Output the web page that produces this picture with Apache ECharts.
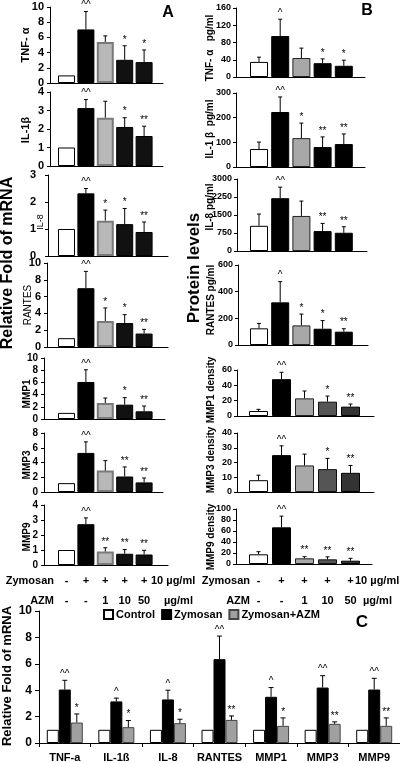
<!DOCTYPE html>
<html><head><meta charset="utf-8">
<script src="https://cdn.jsdelivr.net/npm/echarts@6/dist/echarts.min.js"></script>
<style>html,body{margin:0;padding:0;background:#fff}#c{width:400px;height:763px}</style>
</head><body><div id="c"></div>
<script>
// ---------- DATA ----------
const conditions = ['Control', 'Zymosan', 'Zymosan+AZM 1', 'Zymosan+AZM 10', 'Zymosan+AZM 50'];
const zymosanRow = ['-', '+', '+', '+', '+'];
const azmRow = ['-', '-', '1', '10', '50'];

// Panel A: relative fold of mRNA
const mrnaTNF = [1, 7.05, 5.4, 3.05, 2.75];
const mrnaTNFErr = [0, 2.35, 0.8, 1.85, 1.6];
const mrnaTNFSig = ['', '^^', '', '*', '*'];
const mrnaIL1b = [1, 3.13, 2.61, 2.11, 1.62];
const mrnaIL1bErr = [0, 0.46, 0.89, 0.5, 0.53];
const mrnaIL1bSig = ['', '^^', '', '*', '**'];
const mrnaIL8 = [1, 2.32, 1.31, 1.18, 0.89];
const mrnaIL8Err = [0, 0.18, 0.39, 0.58, 0.37];
const mrnaIL8Sig = ['', '^^', '*', '*', '**'];
const mrnaRANTES = [1.05, 7.0, 3.1, 2.85, 1.6];
const mrnaRANTESErr = [0, 2.0, 1.55, 1.0, 0.5];
const mrnaRANTESSig = ['', '^^', '*', '*', '**'];
const mrnaMMP1 = [1, 6.07, 2.62, 2.35, 1.26];
const mrnaMMP1Err = [0, 2.0, 0.82, 1.15, 0.87];
const mrnaMMP1Sig = ['', '^^', '', '*', '**'];
const mrnaMMP3 = [1.2, 5.3, 2.9, 2.1, 1.3];
const mrnaMMP3Err = [0, 1.5, 1.35, 1.3, 0.6];
const mrnaMMP3Sig = ['', '^^', '', '**', '**'];
const mrnaMMP9 = [1, 2.72, 0.9, 0.75, 0.7];
const mrnaMMP9Err = [0, 0.42, 0.25, 0.28, 0.28];
const mrnaMMP9Sig = ['', '^^', '**', '**', '**'];

// Panel B: protein levels
const protTNF = [35, 95, 44, 32, 26];
const protTNFErr = [11, 39, 23, 10, 13];
const protTNFSig = ['', '^', '', '*', '*'];
const protIL1b = [73, 223, 117, 81, 93];
const protIL1bErr = [28, 61, 61, 41, 41];
const protIL1bSig = ['', '^^', '*', '**', '**'];
const protIL8 = [1050, 2200, 1460, 830, 760];
const protIL8Err = [490, 460, 620, 320, 250];
const protIL8Sig = ['', '^^', '', '**', '**'];
const protRANTES = [125, 320, 147, 122, 100];
const protRANTESErr = [37, 155, 85, 61, 22];
const protRANTESSig = ['', '^', '*', '*', '**'];
const protMMP1 = [6.5, 48, 23, 18.7, 12.2];
const protMMP1Err = [2.2, 9, 9.6, 7.3, 3.4];
const protMMP1Sig = ['', '^^', '', '*', '**'];
const protMMP3 = [8, 25, 18, 15.5, 13];
const protMMP3Err = [3.4, 6.3, 7.7, 7.3, 5];
const protMMP3Sig = ['', '^^', '', '*', '**'];
const protMMP9 = [17.6, 66.7, 10.3, 8.5, 6];
const protMMP9Err = [4.8, 20.3, 3, 4.5, 4.3];
const protMMP9Sig = ['', '^^', '**', '**', '**'];

// Panel C
const cCategories = ['TNF-a', 'IL-1ß', 'IL-8', 'RANTES', 'MMP1', 'MMP3', 'MMP9'];
const cSeriesNames = ['Control', 'Zymosan', 'Zymosan+AZM'];
const cControl = [1, 1, 1, 1, 1, 1, 1];
const cControlErr = [0, 0, 0, 0, 0, 0, 0];
const cControlSig = ['', '', '', '', '', '', ''];
const cZymosan = [4.05, 3.15, 3.3, 6.35, 3.5, 4.2, 4.05];
const cZymosanErr = [0.7, 0.25, 0.7, 1.75, 0.7, 0.9, 0.85];
const cZymosanSig = ['^^', '^', '^', '^^', '^', '^^', '^^'];
const cAZM = [1.55, 1.2, 1.5, 1.75, 1.3, 1.45, 1.3];
const cAZMErr = [0.65, 0.5, 0.3, 0.3, 0.6, 0.15, 0.6];
const cAZMSig = ['*', '*', '*', '**', '*', '**', '**'];

// ---------- LAYOUT / STYLE ----------
const FONT = "'Liberation Sans', Arial, sans-serif";
const NARROW = "'Liberation Sans Narrow', 'Liberation Sans', Arial, sans-serif";

const panelsA = [
  {d: [mrnaTNF, mrnaTNFErr, mrnaTNFSig], max: 10, interval: 2, axisX: 50, top: 7, bottom: 83, end: 163, title: 'TNF- α', tx: 26, ty: 45},
  {d: [mrnaIL1b, mrnaIL1bErr, mrnaIL1bSig], max: 4, interval: 1, axisX: 50, top: 92, bottom: 166, end: 163, title: 'IL-1β', tx: 26, ty: 130},
  {d: [mrnaIL8, mrnaIL8Err, mrnaIL8Sig], max: 3, interval: 1, axisX: 48, top: 175, bottom: 256, end: 168, title: 'IL-8', tx: 41, ty: 222, tfont: 'normal', tsize: 9, lmargin: 12},
  {d: [mrnaRANTES, mrnaRANTESErr, mrnaRANTESSig], max: 10, interval: 2, axisX: 47, top: 263, bottom: 347, end: 168, title: 'RANTES', tx: 28, ty: 305, tfont: 'normal', tsize: 10, narrow: true},
  {d: [mrnaMMP1, mrnaMMP1Err, mrnaMMP1Sig], max: 10, interval: 2, axisX: 44, top: 358, bottom: 419, end: 165, title: 'MMP1', tx: 27, ty: 394, tsize: 10},
  {d: [mrnaMMP3, mrnaMMP3Err, mrnaMMP3Sig], max: 8, interval: 2, axisX: 44, top: 433, bottom: 492, end: 163, title: 'MMP3', tx: 27, ty: 465, tsize: 10},
  {d: [mrnaMMP9, mrnaMMP9Err, mrnaMMP9Sig], max: 4, interval: 1, axisX: 44, top: 505, bottom: 565, end: 168, title: 'MMP9', tx: 27, ty: 537, tsize: 10}
];
const panelsB = [
  {d: [protTNF, protTNFErr, protTNFSig], max: 160, interval: 40, axisX: 236, top: 8, bottom: 77, end: 365, title: 'TNF- α   pg/ml', tx: 210, ty: 48},
  {d: [protIL1b, protIL1bErr, protIL1bSig], max: 300, interval: 100, axisX: 236, top: 93, bottom: 167, end: 365, title: 'IL-1 β  pg/ml', tx: 210, ty: 129},
  {d: [protIL8, protIL8Err, protIL8Sig], max: 3000, interval: 750, axisX: 237, top: 179, bottom: 251, end: 367, title: 'IL-8 pg/ml', tx: 210, ty: 207},
  {d: [protRANTES, protRANTESErr, protRANTESSig], max: 600, interval: 200, axisX: 238, top: 265, bottom: 345, end: 368, title: 'RANTES pg/ml', tx: 211, ty: 300},
  {d: [protMMP1, protMMP1Err, protMMP1Sig], max: 60, interval: 20, axisX: 237, top: 370, bottom: 416, end: 374, title: 'MMP1 density', tx: 211, ty: 390},
  {d: [protMMP3, protMMP3Err, protMMP3Sig], max: 40, interval: 10, axisX: 237, top: 433, bottom: 492, end: 374, title: 'MMP3 density', tx: 211, ty: 460},
  {d: [protMMP9, protMMP9Err, protMMP9Sig], max: 100, interval: 20, axisX: 236, top: 509, bottom: 564, end: 372, title: 'MMP9 density', tx: 211, ty: 537}
];

const grayA = {color: '#b8b8b8', borderColor: '#7a7a7a', borderWidth: 2};
const styleA = [
  {color: '#fff', borderColor: '#000', borderWidth: 1},
  {color: '#000', borderColor: '#000', borderWidth: 1},
  grayA,
  {color: '#111', borderColor: '#000', borderWidth: 1},
  {color: '#111', borderColor: '#000', borderWidth: 1}
];
const styleB1 = [
  {color: '#fff', borderColor: '#000', borderWidth: 1},
  {color: '#000', borderColor: '#000', borderWidth: 1},
  {color: '#a8a8a8', borderColor: '#222', borderWidth: 1},
  {color: '#000', borderColor: '#000', borderWidth: 1},
  {color: '#000', borderColor: '#000', borderWidth: 1}
];
const styleB2 = [
  {color: '#fff', borderColor: '#000', borderWidth: 1},
  {color: '#000', borderColor: '#000', borderWidth: 1},
  {color: '#a8a8a8', borderColor: '#222', borderWidth: 1},
  {color: '#555', borderColor: '#111', borderWidth: 1},
  {color: '#333', borderColor: '#000', borderWidth: 1}
];

const grids = [], xAxes = [], yAxes = [], series = [], graphics = [];

function errRender(sig, capW, fontSize, dx) {
  return function (params, api) {
    const x = api.value(0), v = api.value(1), e = api.value(2);
    const base = api.coord([x, v]);
    const top = api.coord([x, v + e]);
    const ox = dx || 0;
    const ch = [];
    if (e > 0) {
      ch.push({type: 'line', shape: {x1: base[0] + ox, y1: base[1], x2: top[0] + ox, y2: top[1]}, style: {stroke: '#000', lineWidth: 1}});
      ch.push({type: 'line', shape: {x1: top[0] + ox - capW / 2, y1: top[1], x2: top[0] + ox + capW / 2, y2: top[1]}, style: {stroke: '#000', lineWidth: 1}});
    }
    const m = sig[params.dataIndex];
    if (m) {
      ch.push({type: 'text', x: top[0] + ox, y: top[1] - 1, style: {text: m, align: 'center', verticalAlign: 'bottom', fontSize: fontSize, fontFamily: FONT, fill: '#000'}});
    }
    return {type: 'group', children: ch};
  };
}

function addPanel(p, styles, barW, firstC, spacing, labelOpt) {
  const gi = grids.length;
  grids.push({left: p.axisX, top: p.top, width: p.end - p.axisX, height: p.bottom - p.top});
  xAxes.push({gridIndex: gi, type: 'value', min: -(firstC - p.axisX) / spacing, max: (p.end - firstC) / spacing,
    axisLine: {show: true, onZero: false, lineStyle: {color: '#000', width: 1}}, axisTick: {show: false}, axisLabel: {show: false}, splitLine: {show: false}});
  yAxes.push({gridIndex: gi, type: 'value', min: 0, max: p.max, interval: p.interval,
    axisLine: {show: true, onZero: false, lineStyle: {color: '#000', width: 1}},
    axisTick: {show: true, length: 3, lineStyle: {color: '#000'}},
    axisLabel: Object.assign({}, labelOpt, p.lmargin ? {margin: p.lmargin} : {}), splitLine: {show: false}});
  const vals = p.d[0], err = p.d[1], sig = p.d[2];
  series.push({type: 'bar', name: 'p' + gi, xAxisIndex: gi, yAxisIndex: gi, barWidth: barW, silent: true,
    data: vals.map((v, i) => ({value: [i, v], itemStyle: styles[i]}))});
  series.push({type: 'custom', name: 'e' + gi, xAxisIndex: gi, yAxisIndex: gi, z: 5, silent: true,
    data: vals.map((v, i) => [i, v, err[i]]), renderItem: errRender(sig, 4, 10)});
  graphics.push({type: 'text', x: p.tx, y: p.ty, rotation: Math.PI / 2,
    style: {text: p.title, align: 'center', verticalAlign: 'middle', fill: '#000',
      font: (p.tfont || 'bold') + ' ' + (p.tsize || 11) + 'px ' + (p.narrow ? NARROW : FONT)}});
}

const plain = v => String(v);
const labelA = {color: '#000', fontWeight: 'bold', fontSize: 11, fontFamily: FONT, margin: 6, formatter: plain};
const labelB = {color: '#000', fontWeight: 'bold', fontSize: 9, fontFamily: NARROW, margin: 5, formatter: plain};

const centersA = {first: 66.5, step: 19.4};
const centersB1 = {first: 259, step: 21.2};
const centersB2 = {first: 258.5, step: 23};

panelsA.forEach((p, k) => addPanel(p, styleA, 17, centersA.first, centersA.step, Object.assign({}, labelA, k >= 4 ? {fontSize: 10} : {})));
panelsB.forEach((p, k) => k < 4 ? addPanel(p, styleB1, 18, centersB1.first, centersB1.step, labelB)
                                 : addPanel(p, styleB2, 19, centersB2.first, centersB2.step, labelB));
// B panel titles slightly smaller
graphics.forEach((g, i) => { if (i >= 7) g.style.font = 'bold 10px ' + FONT; });

// ---------- Panel C ----------
const gc = grids.length;
grids.push({left: 39, top: 611, width: 361, height: 132});
xAxes.push({gridIndex: gc, type: 'category', data: cCategories,
  axisLine: {show: true, lineStyle: {color: '#000'}},
  axisTick: {show: true, length: 4, alignWithLabel: false, lineStyle: {color: '#000'}},
  axisLabel: {color: '#000', fontWeight: 'bold', fontSize: 11, fontFamily: FONT, margin: 9, interval: 0}});
yAxes.push({gridIndex: gc, type: 'value', min: 0, max: 10, interval: 2,
  axisLine: {show: true, lineStyle: {color: '#000'}},
  axisTick: {show: true, length: 4, lineStyle: {color: '#000'}},
  axisLabel: {color: '#000', fontWeight: 'bold', fontSize: 12, fontFamily: FONT, margin: 7},
  splitLine: {show: false}});
const cVals = [cControl, cZymosan, cAZM];
const cErrs = [cControlErr, cZymosanErr, cAZMErr];
const cSigs = [cControlSig, cZymosanSig, cAZMSig];
const cStyles = [
  {color: '#fff', borderColor: '#000', borderWidth: 1},
  {color: '#000', borderColor: '#000', borderWidth: 1},
  {color: '#a0a0a0', borderColor: '#444', borderWidth: 1}
];
const cBarW = 12;
cVals.forEach((vals, k) => {
  series.push({type: 'bar', name: cSeriesNames[k], xAxisIndex: gc, yAxisIndex: gc, barWidth: cBarW, barGap: '0%',
    itemStyle: cStyles[k], data: vals});
});
cVals.forEach((vals, k) => {
  series.push({type: 'custom', name: 'ce' + k, xAxisIndex: gc, yAxisIndex: gc, z: 5, silent: true,
    data: vals.map((v, i) => [i, v, cErrs[k][i]]), renderItem: errRender(cSigs[k], 5, 10, (k - 1) * cBarW)});
});

// ---------- texts ----------
function txt(t, x, y, font, align, rot) {
  graphics.push({type: 'text', x: x, y: y, rotation: rot || 0,
    style: {text: t, align: align || 'center', verticalAlign: 'middle', fill: '#000', font: font}});
}
txt('Relative Fold of mRNA', 8, 263, 'bold 16px ' + FONT, 'center', Math.PI / 2);
txt('Protein levels', 194, 268, 'bold 17px ' + FONT, 'center', Math.PI / 2);
txt('Relative Fold of mRNA', 7, 676, 'bold 13px ' + FONT, 'center', Math.PI / 2);
txt('A', 168, 13, 'bold 16px ' + FONT);
txt('B', 367, 11, 'bold 16px ' + FONT);
txt('C', 362, 622, 'bold 17px ' + FONT);

const rowFont = 'bold 11px ' + FONT;
function treatmentRows(first, step, labelRight, unitZ, unitA) {
  txt('Zymosan', labelRight, 581, rowFont, 'right');
  txt('AZM', labelRight, 601, rowFont, 'right');
  zymosanRow.forEach((s, i) => txt(s, first + step * i, 581, rowFont));
  azmRow.forEach((s, i) => txt(s, first + step * i, 601, rowFont));
  txt('10 µg/ml', unitZ, 581, rowFont, 'left');
  txt('µg/ml', unitA, 601, rowFont, 'left');
}
treatmentRows(centersA.first, centersA.step, 54, 151, 164);
treatmentRows(centersB2.first, centersB2.step, 250, 355, 363);

const chart = echarts.init(document.getElementById('c'));
chart.setOption({
  animation: false,
  backgroundColor: '#fff',
  grid: grids, xAxis: xAxes, yAxis: yAxes, series: series,
  legend: {data: cSeriesNames, left: 103, top: 609, itemWidth: 9, itemHeight: 9, itemGap: 6, padding: 0,
    icon: 'rect', textStyle: {color: '#000', fontWeight: 'bold', fontSize: 11, fontFamily: FONT, padding: [0, 0, 0, -2]}, selectedMode: false},
  graphic: graphics
});
</script></body></html>
